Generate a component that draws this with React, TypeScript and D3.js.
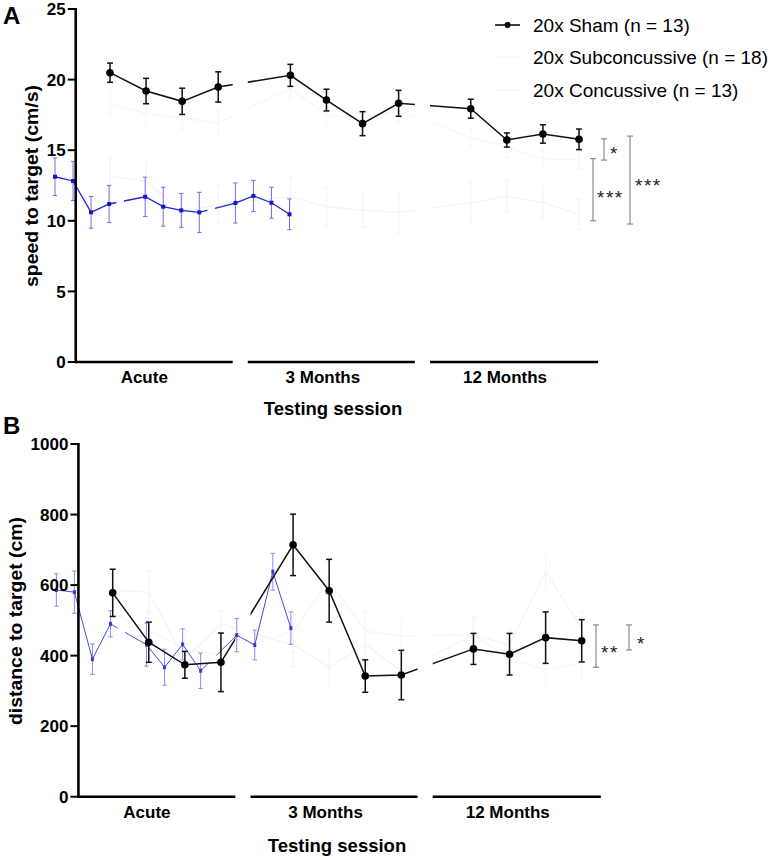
import React from 'react';
import * as d3 from 'd3';

// ---------- data ----------
const sessionIndex = [0, 1, 2, 3, 5, 6, 7, 8, 10, 11, 12, 13];
const sessionNames = ['Acute', '3 Months', '12 Months'];
const sessionLabelPos = [0.95, 5.9, 10.95];
const sessionSpans: [number, number][] = [[-0.95, 3.4], [3.82, 8.45], [8.87, 13.53]];

const legendLabels = ['20x Sham (n = 13)', '20x Subconcussive (n = 18)', '20x Concussive (n = 13)'];

const speedSham = [20.49, 19.19, 18.46, 19.48, 20.3, 18.55, 16.88, 18.32, 17.94, 15.72, 16.15, 15.77];
const speedShamSem = [0.68, 0.9, 0.93, 1.07, 0.78, 0.77, 0.85, 0.92, 0.67, 0.5, 0.65, 0.73];
const speedSub = [18.3, 17.6, 17.3, 16.9, 19.4, 17.5, 17.2, 17.8, 15.9, 15.2, 14.4, 14.3];
const speedSubSem = [0.8, 0.8, 0.8, 0.9, 0.8, 0.8, 0.8, 0.8, 0.7, 0.7, 0.6, 0.6];
const speedConc = [13.12, 12.82, 10.6, 11.19, 11.7, 11.0, 10.74, 10.6, 11.26, 11.76, 11.28, 10.46];
const speedConcSem = [1.33, 1.39, 1.12, 1.32, 1.39, 1.38, 1.2, 1.42, 1.42, 1.1, 1.1, 1.09];
const speedTicks = [0, 5, 10, 15, 20, 25];
const speedSig = [
  { lo: 14.3, hi: 15.8, label: '*' },
  { lo: 10.0, hi: 14.4, label: '***' },
  { lo: 9.77, hi: 16.0, label: '***' },
];

const distSham = [578, 438, 374, 381, 714, 584, 342, 345, 419, 404, 451, 442];
const distShamSem = [67, 57, 38, 83, 87, 89, 46, 70, 44, 59, 73, 60];
const distSub = [520, 470, 420, 400, 470, 610, 470, 455, 460, 390, 360, 380];
const distSubSem = [60, 55, 50, 50, 60, 70, 55, 50, 50, 45, 45, 45];
const distConc = [586, 580, 390, 490, 431, 367, 432, 357, 458, 430, 638, 478];
const distConcSem = [46, 60, 43, 37, 61, 51, 44, 50, 47, 42, 52, 46];
const distTicks = [0, 200, 400, 600, 800, 1000];
const distSig = [
  { lo: 367, hi: 487, label: '**' },
  { lo: 416, hi: 487, label: '*' },
];

const W = 771;
const H = 860;
const FONT = "'Liberation Sans', Arial, Helvetica, sans-serif";
const FAINT_SUB = '#f7f7f7';
const FAINT_CONC = '#f5f5f5';

type Sig = { lo: number; hi: number; label: string };

function ErrorBars({ xs, y, vals, sems, color, width, cap }: any) {
  return (
    <g stroke={color} strokeWidth={width} fill="none">
      {vals.map((v: number, i: number) => {
        const cx = xs(sessionIndex[i]);
        const y0 = y(v - sems[i]);
        const y1 = y(v + sems[i]);
        return (
          <g key={i}>
            <line x1={cx} x2={cx} y1={y0} y2={y1} />
            <line x1={cx - cap} x2={cx + cap} y1={y0} y2={y0} />
            <line x1={cx - cap} x2={cx + cap} y1={y1} y2={y1} />
          </g>
        );
      })}
    </g>
  );
}

function Panel(p: any) {
  const x = d3.scaleLinear().domain([0, 13]).range(p.xRange);
  const xb = d3.scaleLinear().domain([0, 13]).range([p.xRange[0] / 2, p.xRange[1] / 2]);
  const y = d3.scaleLinear().domain(p.yDomain).range(p.yRange);
  const mk = (xs: any) =>
    d3
      .line<number>()
      .x((_, i) => xs(sessionIndex[i]))
      .y((d) => y(d));
  const clipRects = (xs: any) =>
    sessionSpans.map((s, i) => {
      const x0 = i === 0 ? 0 : xs(s[0]);
      const x1 = i === sessionSpans.length - 1 ? W : xs(s[1]);
      return <rect key={i} x={x0} y={0} width={x1 - x0} height={H} />;
    });
  const axisX = x(sessionSpans[0][0]);
  const y0 = y(p.yDomain[0]);
  const yTop = y(p.yDomain[1]);

  return (
    <g>
      <defs>
        <clipPath id={p.id + '-main'}>{clipRects(x)}</clipPath>
        <clipPath id={p.id + '-blue'}>{clipRects(xb)}</clipPath>
      </defs>
      <text x={3} y={p.letterY} fontSize={24} fontWeight="bold">{p.letter}</text>

      {/* faint series */}
      <g clipPath={`url(#${p.id}-main)`}>
        <path d={mk(x)(p.sub) || ''} fill="none" stroke={FAINT_SUB} strokeWidth={1.5} />
        <path d={mk(x)(p.conc) || ''} fill="none" stroke={FAINT_CONC} strokeWidth={1.5} />
      </g>
      <ErrorBars xs={x} y={y} vals={p.sub} sems={p.subSem} color={FAINT_SUB} width={1.3} cap={3} />
      <ErrorBars xs={x} y={y} vals={p.conc} sems={p.concSem} color={FAINT_CONC} width={1.3} cap={3} />

      {/* compressed blue rendering */}
      <ErrorBars xs={xb} y={y} vals={p.conc} sems={p.concSem} color={p.blueErr} width={1} cap={2.2} />
      <g clipPath={`url(#${p.id}-blue)`}>
        <path d={mk(xb)(p.conc) || ''} fill="none" stroke={p.blueLine} strokeWidth={p.blueWidth} />
      </g>
      {p.conc.map((v: number, i: number) => (
        <rect key={i} x={xb(sessionIndex[i]) - p.blueMk[0] / 2} y={y(v) - p.blueMk[1] / 2} width={p.blueMk[0]} height={p.blueMk[1]} fill={p.blueDot} />
      ))}

      {/* sham */}
      <ErrorBars xs={x} y={y} vals={p.sham} sems={p.shamSem} color="#111" width={1.5} cap={3} />
      <g clipPath={`url(#${p.id}-main)`}>
        <path d={mk(x)(p.sham) || ''} fill="none" stroke="#111" strokeWidth={1.5} />
      </g>
      {p.sham.map((v: number, i: number) => (
        <circle key={i} cx={x(sessionIndex[i])} cy={y(v)} r={3.8} fill="#000" />
      ))}

      {/* y axis */}
      <line x1={axisX} x2={axisX} y1={yTop - 1} y2={y0 + 1.25} stroke="#000" strokeWidth={2.6} />
      {p.yTicks.map((t: number) => (
        <g key={t}>
          <line x1={axisX - 8} x2={axisX} y1={y(t)} y2={y(t)} stroke="#000" strokeWidth={2} />
          <text x={axisX - 10} y={y(t)} dy="0.36em" textAnchor="end" fontSize={17} fontWeight="bold">{t}</text>
        </g>
      ))}
      <text
        transform={`translate(${p.yLabelX},${p.yLabelY}) rotate(-90)`}
        textAnchor="middle"
        fontSize={18}
        fontWeight="bold"
        textLength={p.yLabelLen}
        lengthAdjust="spacingAndGlyphs"
      >
        {p.yLabel}
      </text>

      {/* broken x axis */}
      {sessionSpans.map((s, i) => (
        <line key={i} x1={x(s[0])} x2={x(s[1])} y1={y0} y2={y0} stroke="#000" strokeWidth={2.5} />
      ))}
      {sessionNames.map((n, i) => (
        <text key={n} x={x(sessionLabelPos[i])} y={p.sessionLabelY} textAnchor="middle" fontSize={17} fontWeight="bold">{n}</text>
      ))}
      <text x={p.titleX} y={p.titleY} textAnchor="middle" fontSize={18.5} fontWeight="bold">Testing session</text>

      {/* significance */}
      {p.sig.map((s: Sig, i: number) => {
        const bx = p.sigX[i];
        return (
          <g key={i}>
            <g stroke="#777" strokeWidth={1} fill="none">
              <line x1={bx} x2={bx} y1={y(s.hi)} y2={y(s.lo)} />
              <line x1={bx - 3} x2={bx + 3} y1={y(s.hi)} y2={y(s.hi)} />
              <line x1={bx - 3} x2={bx + 3} y1={y(s.lo)} y2={y(s.lo)} />
            </g>
            <text x={p.sigLabelX[i]} y={y((s.hi + s.lo) / 2) + p.sigDy[i]} fontSize={19} fill="#222" letterSpacing={1.5}>{s.label}</text>
          </g>
        );
      })}
    </g>
  );
}

function Legend() {
  const rows = [
    { c: '#000', dot: true },
    { c: FAINT_SUB, dot: false },
    { c: FAINT_CONC, dot: false },
  ];
  const baseY = [32, 64, 97];
  return (
    <g>
      {legendLabels.map((l, i) => (
        <g key={l}>
          <line x1={495} x2={520} y1={baseY[i] - 7} y2={baseY[i] - 7} stroke={rows[i].c} strokeWidth={1.5} />
          {rows[i].dot && <circle cx={507.5} cy={baseY[i] - 7} r={3} fill="#000" />}
          <text x={533} y={baseY[i]} fontSize={19} fill="#000">{l}</text>
        </g>
      ))}
    </g>
  );
}

export default function App() {
  return (
    <svg width={W} height={H} style={{ position: 'absolute', left: 0, top: 0, background: '#fff' }} fontFamily={FONT}>
      <rect width={W} height={H} fill="#fff" />
      <Panel
        id="pa"
        letter="A"
        letterY={24}
        xRange={[110, 579]}
        yDomain={[0, 25]}
        yRange={[362, 9]}
        yTicks={speedTicks}
        yLabel="speed to target (cm/s)"
        yLabelX={38}
        yLabelY={186}
        yLabelLen={202}
        sham={speedSham}
        shamSem={speedShamSem}
        sub={speedSub}
        subSem={speedSubSem}
        conc={speedConc}
        concSem={speedConcSem}
        blueLine="#2626d4"
        blueErr="#6e6ee6"
        blueDot="#1414c8"
        blueWidth={1.3}
        blueMk={[4, 4]}
        sessionLabelY={383}
        titleX={333}
        titleY={415}
        sig={speedSig}
        sigX={[604, 593, 630]}
        sigLabelX={[610, 597, 635]}
        sigDy={[11, 14, 12]}
      />
      <Panel
        id="pb"
        letter="B"
        letterY={434}
        xRange={[112.7, 581.7]}
        yDomain={[0, 1000]}
        yRange={[796.7, 444]}
        yTicks={distTicks}
        yLabel="distance to target (cm)"
        yLabelX={22}
        yLabelY={621}
        yLabelLen={208}
        sham={distSham}
        shamSem={distShamSem}
        sub={distSub}
        subSem={distSubSem}
        conc={distConc}
        concSem={distConcSem}
        blueLine="#4a4ad8"
        blueErr="#8a8aea"
        blueDot="#3a3ad6"
        blueWidth={1}
        blueMk={[3, 4]}
        sessionLabelY={818}
        titleX={337}
        titleY={852}
        sig={distSig}
        sigX={[596, 629]}
        sigLabelX={[601, 637]}
        sigDy={[13, 13]}
      />
      <Legend />
    </svg>
  );
}
